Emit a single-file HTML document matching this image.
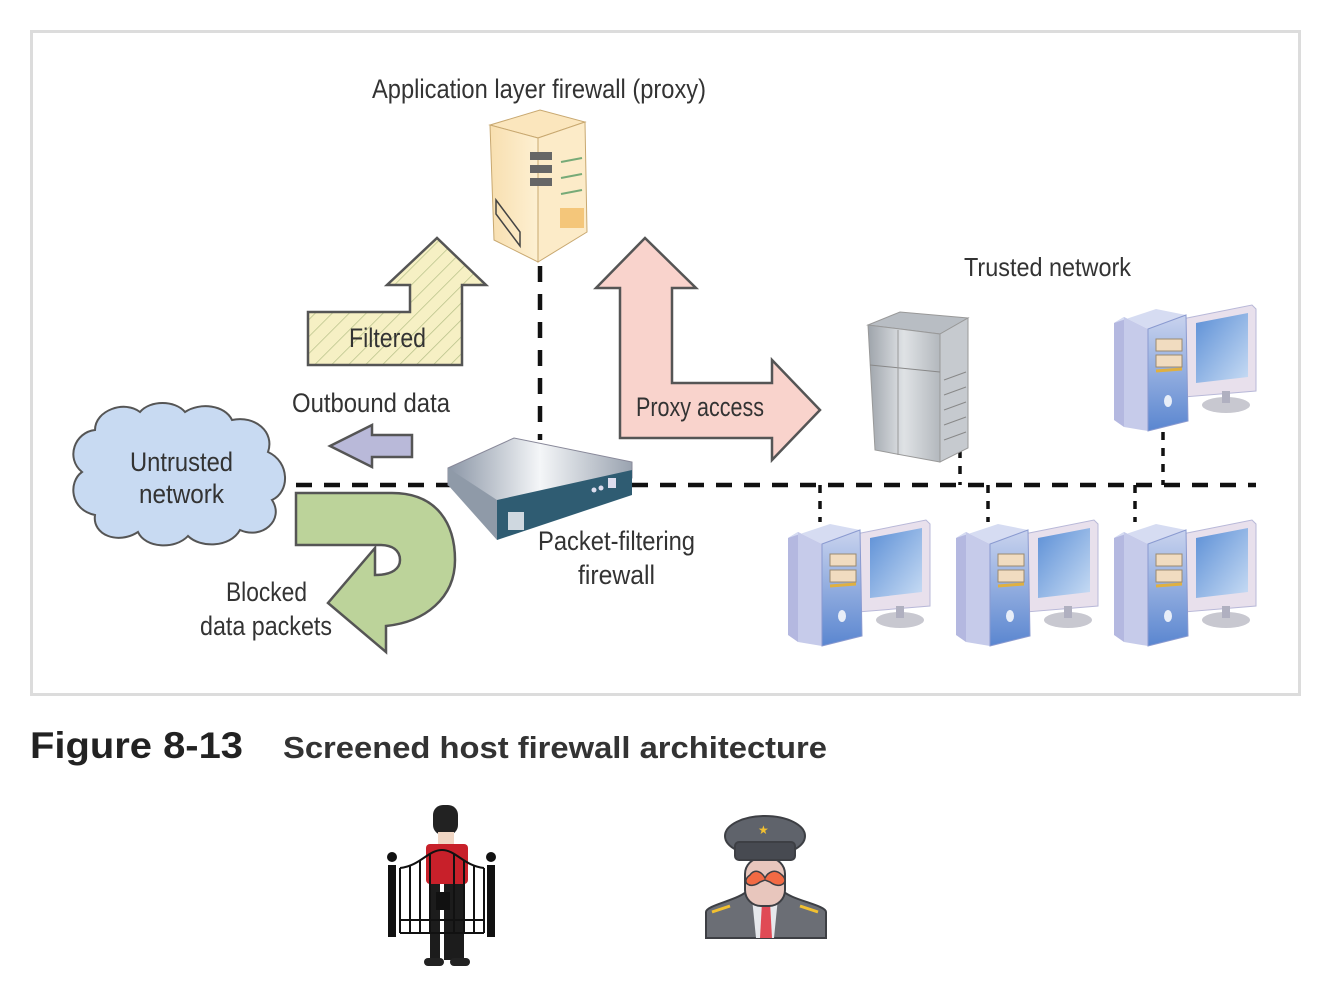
<!DOCTYPE html>
<html><head><meta charset="utf-8"><style>
html,body{margin:0;padding:0;background:#fff;}
svg{display:block;}
text{font-family:"Liberation Sans",sans-serif;fill:#333;}
</style></head><body>
<svg width="1340" height="984" viewBox="0 0 1340 984" xmlns="http://www.w3.org/2000/svg">
<defs>
<pattern id="hatch" width="12" height="12" patternUnits="userSpaceOnUse" patternTransform="rotate(45)">
<rect width="12" height="12" fill="#f6f0c4"/><line x1="0" y1="0" x2="0" y2="12" stroke="#b9c28a" stroke-width="1.5"/></pattern>
<linearGradient id="blueF" x1="0" y1="0" x2="0" y2="1"><stop offset="0" stop-color="#c9d3ee"/><stop offset="1" stop-color="#5a86d0"/></linearGradient>
<linearGradient id="scr" x1="0" y1="0" x2="1" y2="1"><stop offset="0" stop-color="#5c8fd6"/><stop offset="1" stop-color="#c8dcf4"/></linearGradient>
<linearGradient id="boxTop" x1="0" y1="0" x2="1" y2="0"><stop offset="0" stop-color="#8b96a6"/><stop offset="0.5" stop-color="#f4f6f8"/><stop offset="1" stop-color="#9aa3b0"/></linearGradient>
<linearGradient id="gsrv" x1="0" y1="0" x2="1" y2="0"><stop offset="0" stop-color="#9ea4ab"/><stop offset="0.5" stop-color="#dfe2e5"/><stop offset="1" stop-color="#b3b8bd"/></linearGradient>
<linearGradient id="ysrv" x1="0" y1="0" x2="1" y2="0"><stop offset="0" stop-color="#f8dfb0"/><stop offset="1" stop-color="#fdf0d2"/></linearGradient>
<g id="pc">
<polygon points="68,14 138,0 142,4 142,86 70,92" fill="#e8e0ec" stroke="#b8b8d8"/>
<polygon points="82,18 134,8 134,72 82,78" fill="url(#scr)"/>
<ellipse cx="112" cy="100" rx="24" ry="8" fill="#c8c8d0"/>
<rect x="108" y="86" width="8" height="12" fill="#b0b0c0"/>
<polygon points="0,18 10,12 10,122 0,115" fill="#b4b8e0"/>
<polygon points="0,18 42,4 72,10 34,24 10,12" fill="#d6dcf2"/>
<polygon points="10,12 34,24 34,126 10,122" fill="#c6cbea"/>
<polygon points="34,24 72,10 74,116 34,126" fill="url(#blueF)" stroke="#8a9ad0"/>
<rect x="42" y="34" width="26" height="12" fill="#f1dcc0" stroke="#9a8a70"/>
<rect x="42" y="50" width="26" height="12" fill="#f1dcc0" stroke="#9a8a70"/>
<line x1="42" y1="66" x2="68" y2="64" stroke="#e0b040" stroke-width="3"/>
<ellipse cx="54" cy="96" rx="4" ry="6" fill="#e8eef8"/>
</g>
</defs>
<rect x="31.5" y="31.5" width="1268" height="663" fill="#fff" stroke="#dcdcdc" stroke-width="3"/>

<g stroke="#111" stroke-width="4.5" stroke-dasharray="16 12" fill="none">
<line x1="296" y1="485" x2="1256" y2="485"/>
<line x1="540" y1="266" x2="540" y2="440"/>
</g>
<g stroke="#111" stroke-width="3.5" stroke-dasharray="8 8" fill="none">
<line x1="820" y1="485" x2="820" y2="522"/>
<line x1="988" y1="485" x2="988" y2="522"/>
<line x1="1135" y1="485" x2="1135" y2="522"/>
<line x1="960" y1="450" x2="960" y2="485"/>
<line x1="1163" y1="432" x2="1163" y2="485"/>
</g>

<text x="372" y="98" font-size="27" textLength="334" lengthAdjust="spacingAndGlyphs">Application layer firewall (proxy)</text>
<text x="964" y="276" font-size="26" textLength="167" lengthAdjust="spacingAndGlyphs">Trusted network</text>
<text x="292" y="412" font-size="27" textLength="158" lengthAdjust="spacingAndGlyphs">Outbound data</text>
<text x="538" y="550" font-size="27" textLength="157" lengthAdjust="spacingAndGlyphs">Packet-filtering</text>
<text x="578" y="584" font-size="27" textLength="77" lengthAdjust="spacingAndGlyphs">firewall</text>
<text x="226" y="601" font-size="27" textLength="81" lengthAdjust="spacingAndGlyphs">Blocked</text>
<text x="200" y="635" font-size="27" textLength="132" lengthAdjust="spacingAndGlyphs">data packets</text>

<polygon points="490,125 540,110 585,122 538,138" fill="#fbe6bd" stroke="#c8a870"/>
<polygon points="490,125 538,138 538,262 494,240" fill="url(#ysrv)" stroke="#c8a870"/>
<polygon points="538,138 585,122 587,232 538,262" fill="#fcebc8" stroke="#c8a870"/>
<g fill="#666"><rect x="530" y="152" width="22" height="8"/><rect x="530" y="165" width="22" height="8"/><rect x="530" y="178" width="22" height="8"/></g>
<g stroke="#7a7" stroke-width="2"><line x1="561" y1="162" x2="582" y2="158"/><line x1="561" y1="178" x2="582" y2="174"/><line x1="561" y1="194" x2="582" y2="190"/></g>
<rect x="560" y="208" width="24" height="20" fill="#f4c67a"/>
<polygon points="496,200 520,232 520,246 496,214" fill="none" stroke="#444" stroke-width="1.5"/>

<polygon points="308,312 410,312 410,285 387,285 437,238 486,285 462,285 462,365 308,365" fill="url(#hatch)" stroke="#555" stroke-width="2.5"/>
<text x="349" y="347" font-size="27" textLength="77" lengthAdjust="spacingAndGlyphs">Filtered</text>

<polygon points="620,438 620,288 596,288 645,238 696,288 672,288 672,383 772,383 772,360 820,410 772,460 772,438" fill="#f9d3cc" stroke="#555" stroke-width="2.5"/>
<text x="636" y="416" font-size="27" textLength="128" lengthAdjust="spacingAndGlyphs">Proxy access</text>

<polygon points="412,435 372,435 372,425 330,446 372,467 372,457 412,457" fill="#b9b9d9" stroke="#555" stroke-width="2.5"/>

<path d="M296,493 H392 C438,493 455,525 455,560 C455,598 425,622 386,626 V652 L328,603 L375,548 V575 C393,575 400,568 400,560 C400,550 392,545 380,545 H296 Z" fill="#bcd39a" stroke="#555" stroke-width="2.5"/>

<path d="M95,430 C95,410 125,400 140,412 C150,400 175,400 185,412 C200,402 225,405 232,420 C255,415 275,432 268,452 C290,462 290,492 272,500 C285,520 262,540 240,530 C230,548 200,548 188,536 C175,550 145,548 138,532 C118,545 92,535 95,515 C70,510 68,482 82,472 C65,458 75,432 95,430 Z" fill="#c8daf2" stroke="#555" stroke-width="2"/>
<text x="130" y="471" font-size="27" textLength="103" lengthAdjust="spacingAndGlyphs">Untrusted</text>
<text x="139" y="503" font-size="27" textLength="85" lengthAdjust="spacingAndGlyphs">network</text>

<polygon points="448,468 514,438 632,462 632,478 497,508 448,485" fill="url(#boxTop)" stroke="#889"/>
<polygon points="448,468 497,500 497,540 448,485" fill="#8f9aa8"/>
<polygon points="497,500 632,470 632,495 497,540" fill="#2f5c72"/>
<rect x="508" y="512" width="16" height="18" fill="#cfd8e0"/>
<circle cx="594" cy="490" r="2.5" fill="#dde"/><circle cx="601" cy="488" r="2.5" fill="#dde"/>
<rect x="608" y="478" width="8" height="10" fill="#dde"/>

<polygon points="868,325 900,312 968,318 940,334" fill="#b8bdc3" stroke="#999"/>
<polygon points="868,325 940,334 940,462 875,450" fill="url(#gsrv)" stroke="#999"/>
<polygon points="940,334 968,318 968,448 940,462" fill="#c6cacf" stroke="#999"/>
<line x1="870" y1="365" x2="940" y2="372" stroke="#888"/>
<line x1="898" y1="330" x2="898" y2="455" stroke="#999"/>
<g stroke="#888"><line x1="944" y1="380" x2="966" y2="372"/><line x1="944" y1="395" x2="966" y2="387"/><line x1="944" y1="410" x2="966" y2="402"/><line x1="944" y1="425" x2="966" y2="417"/><line x1="944" y1="440" x2="966" y2="432"/></g>

<use href="#pc" transform="translate(1114,305)"/>
<use href="#pc" transform="translate(788,520)"/>
<use href="#pc" transform="translate(956,520)"/>
<use href="#pc" transform="translate(1114,520)"/>

<text x="30" y="758" font-weight="bold" font-size="37" style="fill:#222" textLength="213" lengthAdjust="spacingAndGlyphs">Figure 8-13</text>
<text x="283" y="758" font-size="31" font-weight="bold" style="fill:#333" textLength="544" lengthAdjust="spacingAndGlyphs">Screened host firewall architecture</text>

<rect x="433" y="805" width="25" height="30" rx="10" fill="#222"/>
<rect x="438" y="832" width="16" height="14" fill="#f0d6c4"/>
<rect x="426" y="844" width="42" height="40" rx="4" fill="#c8202a"/>
<rect x="430" y="884" width="34" height="76" fill="#1c1c1c"/>
<rect x="440" y="884" width="4" height="76" fill="#fff"/>
<rect x="424" y="958" width="20" height="8" rx="4" fill="#222"/><rect x="450" y="958" width="20" height="8" rx="4" fill="#222"/>
<rect x="388" y="865" width="8" height="72" fill="#111"/><rect x="487" y="865" width="8" height="72" fill="#111"/>
<circle cx="392" cy="857" r="5" fill="#111"/><circle cx="491" cy="857" r="5" fill="#111"/>
<g stroke="#111" stroke-width="2" fill="none">
<path d="M400,868 C420,866 428,850 442,850 C456,850 464,866 484,868"/>
<line x1="400" y1="868" x2="400" y2="933"/><line x1="484" y1="868" x2="484" y2="933"/>
<line x1="400" y1="933" x2="484" y2="933"/><line x1="400" y1="920" x2="484" y2="920"/>
<line x1="410" y1="866" x2="410" y2="933"/><line x1="420" y1="860" x2="420" y2="933"/><line x1="430" y1="854" x2="430" y2="933"/><line x1="454" y1="854" x2="454" y2="933"/><line x1="464" y1="860" x2="464" y2="933"/><line x1="474" y1="866" x2="474" y2="933"/>
</g>
<rect x="436" y="892" width="14" height="18" fill="#111"/>

<path d="M706,938 V912 C706,905 740,900 748,890 H782 C790,900 826,905 826,912 V938 Z" fill="#6b6e75" stroke="#3d3f44" stroke-width="2"/>
<polygon points="752,898 778,898 774,938 756,938" fill="#e6e8ec"/>
<polygon points="762,902 770,902 772,938 760,938" fill="#e04a55"/>
<rect x="745" y="858" width="40" height="48" rx="16" fill="#e8c6bd" stroke="#3d3f44" stroke-width="2"/>
<path d="M750,875 C755,868 762,872 765,878 C768,872 775,868 782,875 C790,882 780,890 770,882 L765,880 L760,882 C750,890 740,882 750,875 Z" fill="#f26a44" stroke="#3d3f44" stroke-width="1.5"/>
<ellipse cx="765" cy="836" rx="40" ry="20" fill="#5f636b" stroke="#3d3f44" stroke-width="2"/>
<rect x="735" y="842" width="60" height="18" rx="4" fill="#474a51" stroke="#3d3f44" stroke-width="2"/>
<text x="758" y="834" font-size="12" style="fill:#f2c030">★</text>
<line x1="712" y1="912" x2="730" y2="906" stroke="#f2c030" stroke-width="3"/>
<line x1="800" y1="906" x2="818" y2="912" stroke="#f2c030" stroke-width="3"/>
</svg>
</body></html>
